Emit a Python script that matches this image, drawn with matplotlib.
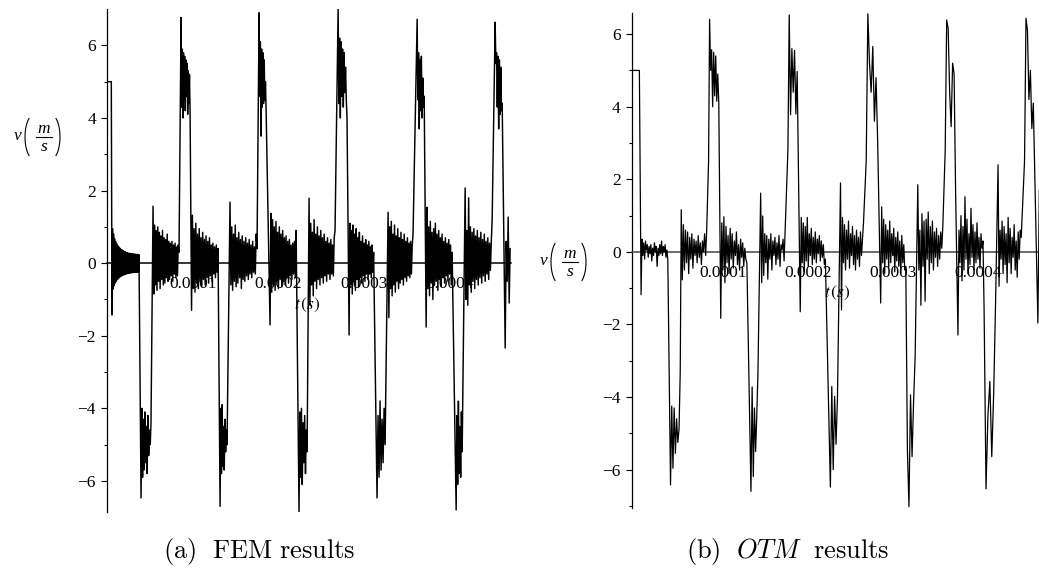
import numpy as np
import matplotlib
matplotlib.use("Agg")
import matplotlib.pyplot as plt
from matplotlib.ticker import FixedLocator
from matplotlib.lines import Line2D

plt.rcParams['font.family'] = ['Liberation Serif', 'DejaVu Serif']
plt.rcParams['mathtext.fontset'] = 'stix'

# velocity histories
# each block: (start in microseconds, end in microseconds, samples evenly spaced)
fem_segments = [
    (0.0, 5.0, [5.0, 5.0]),
    (5.8, 37.3, [-1.43, 0.95, -0.72, 0.80, -0.62, 0.68, -0.55, 0.60, -0.50, 0.54,
                 -0.46, 0.49, -0.43, 0.45, -0.40, 0.42, -0.38, 0.39, -0.36, 0.37,
                 -0.34, 0.35, -0.33, 0.33, -0.32, 0.32, -0.31, 0.30, -0.30, 0.29,
                 -0.29, 0.28, -0.28, 0.27, -0.28, 0.27, -0.27, 0.26, -0.27, 0.26,
                 -0.26, 0.25, -0.26, 0.25, -0.25, 0.25, -0.25, 0.24, -0.25, 0.24,
                 -0.25, 0.24, -0.24, 0.23]),
    (39.7, 51.3, [-6.47, -4.0, -5.9, -4.3, -5.7, -4.1, -5.5, -4.5, -5.8, -4.2,
                  -5.3, -4.6, -5.0, -4.4]),
    (53.7, 84.0, [1.57, -0.85, 1.05, -0.6, 0.9, -0.75, 1.0, -0.5, 0.85, -0.7,
                  0.75, -0.45, 0.9, -0.6, 0.7, -0.55, 0.65, -0.4, 0.8, -0.5,
                  0.6, -0.45, 0.55, -0.35, 0.6, -0.5, 0.5, -0.3, 0.55, -0.4,
                  0.45, -0.35, 0.5, 0.3]),
    (86.4, 96.9, [6.77, 4.3, 5.9, 4.0, 5.8, 4.5, 5.7, 4.2, 5.6, 4.6, 5.5, 4.1,
                  5.3, 4.4, 5.2, 4.2]),
    (98.6, 129.5, [-1.3, 1.32, -0.7, 0.95, -0.8, 1.1, -0.55, 0.8, -0.7, 0.95,
                   -0.5, 0.7, -0.65, 0.85, -0.45, 0.65, -0.6, 0.75, -0.4, 0.6,
                   -0.55, 0.7, -0.35, 0.5, -0.5, 0.55, -0.3, 0.45, -0.4, 0.5,
                   -0.25, 0.4]),
    (131.9, 140.0, [-6.7, -4.0, -5.8, -3.9, -5.6, -4.5, -5.7, -4.3, -5.2, -4.6,
                    -5.0]),
    (143.5, 175.0, [1.68, -0.6, 1.0, -0.75, 0.8, -0.5, 1.05, -0.65, 0.7, -0.55,
                    0.85, -0.4, 0.65, -0.7, 0.75, -0.45, 0.6, -0.5, 0.7, -0.35,
                    0.55, -0.45, 0.65, -0.3, 0.5, -0.4, 0.6, -0.25, 0.45, -0.3,
                    0.8, 0.4]),
    (177.4, 185.6, [6.9, 4.6, 6.1, 3.5, 5.9, 4.3, 5.8, 4.4, 5.6, 4.5, 5.0, 4.2]),
    (190.2, 220.6, [-1.7, 1.37, -0.8, 1.2, -0.6, 1.0, -0.75, 1.15, -0.5, 0.85,
                    -0.7, 1.0, -0.45, 0.8, -0.65, 0.9, -0.5, 0.7, -0.6, 0.75,
                    -0.4, 0.6, -0.55, 0.65, -0.35, 0.5, -0.45, 0.55, -0.3, 0.6,
                    -0.4, 0.9]),
    (224.0, 233.4, [-6.86, -4.1, -5.9, -4.0, -6.1, -4.4, -5.5, -4.2, -5.8, -4.6,
                    -5.2]),
    (235.7, 266.0, [1.79, -1.16, 1.1, -0.6, 0.85, -0.9, 1.2, -0.5, 0.8, -0.7,
                    1.0, -0.45, 0.75, -0.6, 0.9, -0.4, 0.7, -0.55, 0.8, -0.35,
                    0.6, -0.5, 0.7, -0.3, 0.55, -0.45, 0.65, -0.3, 0.5, -0.35,
                    0.7, 0.9]),
    (269.6, 280.0, [7.0, 4.4, 6.2, 4.0, 6.1, 4.6, 5.9, 4.3, 5.8, 4.7, 5.4, 4.5,
                    4.0]),
    (282.4, 311.0, [-1.98, 1.1, -0.6, 0.9, -0.85, 1.05, -0.5, 0.8, -0.75, 0.95,
                    -0.45, 0.7, -0.65, 0.85, -0.4, 0.6, -0.55, 0.75, -0.35, 0.55,
                    -0.5, 0.65, -0.3, 0.5, -0.45, 0.6, -0.3, 0.45, -0.4, 0.5,
                    -0.25, 0.3]),
    (315.0, 324.4, [-6.47, -4.2, -5.9, -3.8, -5.7, -4.3, -5.5, -4.0, -5.0]),
    (327.9, 357.0, [1.4, -1.5, 1.0, -0.7, 1.15, -0.9, 0.8, -0.6, 1.05, -0.8,
                    0.75, -0.5, 0.95, -0.7, 0.7, -0.55, 0.85, -0.45, 0.65, -0.6,
                    0.8, -0.4, 0.6, -0.5, 0.7, -0.35, 0.55, -0.4, 0.6, -0.3,
                    0.5, 0.8]),
    (361.8, 370.0, [6.72, 4.5, 5.8, 3.7, 5.6, 4.2, 5.7, 4.0, 5.1, 4.3, 4.6]),
    (372.3, 402.6, [-1.76, 1.54, -0.7, 1.0, -0.9, 1.15, -0.55, 0.85, -1.0, 0.95,
                    -0.6, 1.1, -0.5, 0.8, -0.75, 0.9, -0.45, 0.7, -0.65, 0.8,
                    -0.4, 0.6, -0.55, 0.7, -0.35, 0.55, -0.5, 0.65, -0.3, 0.5,
                    -0.6, 0.3]),
    (407.3, 414.3, [-6.8, -4.2, -6.1, -3.8, -5.8, -4.5, -5.9, -4.1, -5.2]),
    (417.8, 449.3, [2.07, -1.0, 0.9, -1.16, 1.8, -0.6, 1.0, -0.8, 0.85, -0.5,
                    0.95, -0.7, 0.75, -0.45, 0.9, -0.6, 0.7, -0.4, 0.85, -0.55,
                    0.65, -0.35, 0.8, -0.5, 0.6, -0.3, 0.7, -0.45, 0.55, -0.2,
                    0.6, 1.2]),
    (452.8, 461.0, [6.64, 5.5, 5.8, 4.3, 5.7, 3.7, 5.6, 4.1, 5.4, 4.2, 4.4]),
    (464.5, 470.3, [-2.34, 0.6, -0.5, 1.27, -1.1, 0.4]),
]

otm_segments = [
    (-7.0, 2.0, [5.0, 5.0]),
    (4.0, 35.4, [-1.18, 0.35, -0.1, 0.25, -0.2, 0.3, 0.05, 0.2, -0.15, 0.15,
                 -0.05, 0.2, -0.25, 0.1, -0.1, 0.25, 0.0, 0.15, -0.4, 0.1,
                 -0.1, 0.2, -0.05, 0.3, -0.1, 0.15, 0.0, 0.2, -0.15, 0.05, -0.2]),
    (38.6, 50.0, [-6.42, -4.25, -5.96, -4.3, -5.55, -4.6, -5.25, -4.9, -3.3]),
    (51.2, 81.1, [1.16, -0.77, 0.75, -0.5, 0.6, -0.3, 0.55, -0.6, 0.4, -0.2,
                  0.5, -0.45, 0.35, -0.1, 0.3, -0.3, 0.45, -0.15, 0.25, -0.35,
                  0.3, 0.0, 0.5, -0.1, 0.6]),
    (83.3, 95.3, [2.5, 6.41, 5.0, 5.57, 4.0, 5.5, 4.3, 5.4, 4.15, 4.9, 4.1]),
    (97.6, 128.3, [-1.83, 0.8, -0.5, 0.97, -0.85, 0.7, -0.3, 0.45, -0.6, 0.65,
                   -0.2, 0.5, -0.45, 0.3, -0.1, 0.55, -0.35, 0.2, -0.5, 0.35,
                   -0.15, 0.25, -0.4, 0.1, -0.2, -0.3]),
    (133.1, 141.3, [-6.6, -3.72, -6.19, -4.3, -5.5, -4.5, -3.35]),
    (144.5, 173.2, [1.62, -0.85, 0.99, -0.65, 0.5, -0.3, 0.45, -0.75, 0.35, -0.2,
                    0.5, -0.5, 0.3, -0.1, 0.4, -0.35, 0.25, -0.2, 0.45, -0.4,
                    0.2, 0.05, 0.35, -0.25, 0.55]),
    (176.5, 187.4, [2.8, 6.53, 3.78, 5.6, 4.4, 5.55, 3.8, 4.97]),
    (191.0, 220.5, [-1.65, 0.95, -0.3, 0.8, -0.55, 0.7, -0.25, 0.95, -0.4, 0.5,
                    -0.1, 0.65, -0.35, 0.4, -0.2, 0.55, -0.3, 0.35, -0.05, 0.45,
                    -0.25, 0.3, -0.15, 0.2, -0.35, -0.2]),
    (226.4, 234.7, [-6.48, -3.71, -6.0, -3.98, -5.3, -4.05]),
    (238.3, 265.3, [1.9, -1.6, 0.95, -0.3, 0.75, -0.5, 0.6, -0.2, 0.85, -0.45,
                    0.5, -0.1, 0.7, -0.35, 0.45, -0.5, 0.6, -0.2, 0.4, -0.4,
                    0.55, -0.1, 0.35, 0.8]),
    (268.5, 282.0, [2.5, 6.56, 5.2, 4.4, 5.66, 3.6, 4.8, 3.0]),
    (285.5, 315.0, [-1.41, 1.24, -0.3, 0.9, -0.6, 0.75, -0.2, 0.6, -0.45, 0.85,
                    -0.3, 0.5, -0.1, 0.65, -0.55, 0.4, -0.25, 0.55, -0.4, 0.3,
                    -0.6, 0.45, -0.3, 0.2, -0.5, -0.4]),
    (316.9, 326.0, [-5.45, -7.02, -3.94, -5.64, -4.1, -2.88]),
    (329.1, 358.5, [1.85, -0.5, 0.6, -1.47, 1.05, -0.4, 0.85, -1.36, 0.9, -0.2,
                    1.1, -0.6, 0.7, -0.3, 0.85, -0.5, 0.55, -0.15, 0.65, -0.4,
                    0.45, -0.2, 0.55, 0.1, 0.7]),
    (361.3, 373.5, [2.8, 6.39, 6.15, 4.4, 3.45, 5.2, 4.9, 1.7]),
    (376.3, 405.7, [-2.29, 0.6, -0.3, 1.0, -0.8, 0.7, -0.5, 1.52, -0.2, 0.9,
                    -0.6, 0.5, -0.35, 1.2, -0.15, 0.75, -0.5, 0.55, -0.3, 0.8,
                    -0.2, 0.4, -0.45, 0.5, 0.1, 0.3]),
    (407.0, 420.5, [-1.6, -6.53, -4.5, -3.57, -5.64, -3.9, -1.37]),
    (423.4, 450.6, [2.4, -0.95, 0.6, -0.2, 0.85, -0.6, 0.7, -0.35, 0.5, -0.85,
                    0.95, -0.3, 0.65, -0.6, 0.4, -0.15, 0.75, -0.5, 0.3, -0.7,
                    0.55, -0.2, 0.6, 0.4]),
    (454.5, 464.8, [2.5, 6.44, 6.1, 4.2, 5.0, 3.4, 4.1]),
    (470.2, 471.9, [-1.96, 1.7]),
]

x_ticks = [0.0001, 0.0002, 0.0003, 0.0004]
x_tick_labels = ['0.0001', '0.0002', '0.0003', '0.0004']
y_ticks = [-6, -4, -2, 0, 2, 4, 6]

W, H = 1039, 569


def build(segments):
    t, v = [], []
    for t0, t1, vals in segments:
        t.extend(np.linspace(t0, t1, len(vals)))
        v.extend(vals)
    return np.array(t) * 1e-6, np.array(v)


def style_axes(ax, xlim, ylim, xaxis_color):
    ax.set_xlim(*xlim)
    ax.set_ylim(*ylim)
    ax.spines['top'].set_visible(False)
    ax.spines['right'].set_visible(False)
    ax.spines['bottom'].set_position(('data', 0))
    ax.spines['bottom'].set_color(xaxis_color)
    ax.spines['bottom'].set_linewidth(1.1)
    ax.spines['left'].set_linewidth(0.9)
    ax.set_xticks(x_ticks)
    ax.set_xticklabels(x_tick_labels)
    ax.set_yticks(y_ticks)
    ax.set_yticklabels([('\u2212%d' % -y) if y < 0 else str(y) for y in y_ticks])
    ax.yaxis.set_minor_locator(FixedLocator([-7, -5, -3, -1, 1, 3, 5]))
    ax.tick_params(axis='y', which='major', direction='out', length=4.5,
                   width=0.8, labelsize=12.5, pad=3.5)
    ax.tick_params(axis='y', which='minor', direction='out', length=2.5, width=0.8)
    ax.tick_params(axis='x', which='major', direction='out', length=2,
                   width=0.8, labelsize=12.5, pad=7.5, colors='black')


def velocity_label(fig, bx, by):
    # Maple style v( m/s ) with a tall fraction; bx, by = fraction bar centre in pixels
    fx = lambda x: np.asarray(x) / W
    fy = lambda y: 1 - np.asarray(y) / H
    kw = dict(fontsize=12.5, ha='center', va='center', fontstyle='italic',
              family='Liberation Serif')
    fig.text(fx(bx - 26), fy(by - 1), 'v', **kw)
    fig.text(fx(bx), fy(by - 8), 'm', **kw)
    fig.text(fx(bx), fy(by + 10), 's', **kw)
    fig.add_artist(Line2D(fx([bx - 8, bx + 8]), fy([by, by]),
                          transform=fig.transFigure, color='black', lw=0.8))
    # thin round brackets
    a, b = 9.4, 22.6
    th = np.radians(np.linspace(125, 235, 30))
    for cx, sgn in ((bx - 19 + a, 1), (bx + 16 - a, -1)):
        xs = cx + sgn * a * np.cos(th)
        ys = by + b * np.sin(th)
        fig.add_artist(Line2D(fx(xs), fy(ys), transform=fig.transFigure,
                              color='black', lw=0.8))


fig = plt.figure(figsize=(10.39, 5.69), dpi=100)

ax1 = fig.add_axes([0.103, 0.100, 0.389, 0.884])
t, v = build(fem_segments)
ax1.plot(t, v, color='black', lw=1.05, zorder=3)
style_axes(ax1, (0.0, 471.5e-6), (-6.86, 7.0), 'black')

ax2 = fig.add_axes([0.608, 0.107, 0.392, 0.870])
t, v = build(otm_segments)
ax2.plot(t, v, color='black', lw=0.9, zorder=3)
style_axes(ax2, (-7.0e-6, 471.5e-6), (-7.06, 6.58), '#444444')

# axis titles (Maple style) and subfigure captions
velocity_label(fig, 44, 137)
velocity_label(fig, 570, 262)
fig.text(0.2955, 0.464, r'$t\,(s)$', fontsize=12.5, ha='center', va='center')
fig.text(0.8056, 0.4851, r'$t\,(s)$', fontsize=12.5, ha='center', va='center')

fig.text(0.2493, 0.0299, r'$\mathrm{(a)\ \ FEM\ results}$', fontsize=19,
         ha='center', va='center', math_fontfamily='cm')
fig.text(0.7584, 0.0299, r'$\mathrm{(b)}\ \ OTM\ \ \mathrm{results}$', fontsize=19,
         ha='center', va='center', math_fontfamily='cm')

fig.savefig('out.png', dpi=100)
